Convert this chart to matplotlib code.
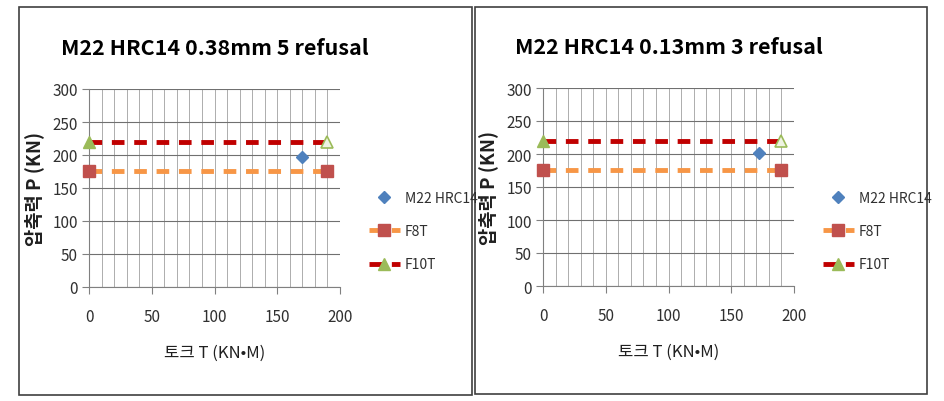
import matplotlib.pyplot as plt
from matplotlib.patches import Rectangle
from matplotlib.ticker import MultipleLocator

plt.rcParams['font.family'] = ['Noto Sans CJK KR', 'DejaVu Sans']

# data
titles = ['M22 HRC14 0.38mm 5 refusal', 'M22 HRC14 0.13mm 3 refusal']
m22_x = [170, 172]
m22_y = [197, 202]
f8t_x = [0, 190]
f8t_y = [176, 176]
f10t_x = [0, 190]
f10t_y = [220, 220]

W, H = 944, 402
fig = plt.figure(figsize=(W / 100, H / 100), dpi=100)

def px(x0, y0, x1, y1):
    # pixel box (top-left origin) -> figure fraction
    return [x0 / W, 1 - y1 / H, (x1 - x0) / W, (y1 - y0) / H]

panels = [(19, 8, 472, 396), (475, 8, 927, 395)]
axboxes = [(89, 90, 340, 288), (543, 89, 794, 287)]

for i in range(2):
    x0, y0, x1, y1 = panels[i]
    fig.patches.append(Rectangle((x0 / W, 1 - y1 / H), (x1 - x0) / W, (y1 - y0) / H,
                                 transform=fig.transFigure, fill=False,
                                 edgecolor='#404040', linewidth=1.2))

    ax = fig.add_axes(px(*axboxes[i]))
    l1, = ax.plot(f8t_x, f8t_y, color='#F79646', lw=3.5, ls=(0, (2.6, 2.0)),
                  marker='s', ms=9, mfc='#C0504D', mec='#C0504D', zorder=3,
                  clip_on=False)
    l2, = ax.plot(f10t_x, f10t_y, color='#C00000', lw=3.5, ls=(0, (2.6, 2.0)),
                  marker='^', ms=9, mfc='#9BBB59', mec='#9BBB59', zorder=3,
                  markevery=[0], clip_on=False)
    # last triangle looks hollow in the original
    ax.plot(f10t_x[-1:], f10t_y[-1:], ls='none', marker='^', ms=9, mfc='#EEF3E2',
            mec='#9BBB59', mew=1.2, zorder=4, clip_on=False)
    l0, = ax.plot([m22_x[i]], [m22_y[i]], ls='none', marker='D', ms=6.5,
                  color='#4F81BD', zorder=4)

    ax.set_xlim(0, 200)
    ax.set_ylim(0, 300)
    ax.xaxis.set_major_locator(MultipleLocator(50))
    ax.xaxis.set_minor_locator(MultipleLocator(10))
    ax.yaxis.set_major_locator(MultipleLocator(50))
    ax.grid(True, which='major', axis='y', color='#707070', lw=0.8)
    ax.grid(True, which='both', axis='x', color='#A0A0A0', lw=0.6)
    ax.set_axisbelow(True)
    for s in ['top', 'right']:
        ax.spines[s].set_visible(False)
    for s in ['left', 'bottom']:
        ax.spines[s].set_color('#808080')
    ax.tick_params(which='major', direction='out', length=5, color='#808080',
                   labelsize=11, labelcolor='#303030', pad=10)
    ax.tick_params(axis='y', pad=3)
    ax.tick_params(which='minor', length=0)

    ax.set_title(titles[i], fontsize=15.5, fontweight='bold', pad=25)
    ax.set_xlabel('토크 T (KN•M)', fontsize=12, labelpad=14, color='#202020')
    ax.set_ylabel('압축력 P (KN)', fontsize=13.5, fontweight='bold', labelpad=6,
                  color='#202020')

    lx = (axboxes[i][2] + 29) / W
    fig.legend([l0, l1, l2], ['M22 HRC14', 'F8T', 'F10T'],
               loc='center left', bbox_to_anchor=(lx, 1 - 232 / H),
               frameon=False, fontsize=10, labelspacing=1.4, handlelength=2.2,
               handletextpad=0.4, borderpad=0, borderaxespad=0,
               labelcolor='#303030')

fig.savefig('out.png', dpi=100)
